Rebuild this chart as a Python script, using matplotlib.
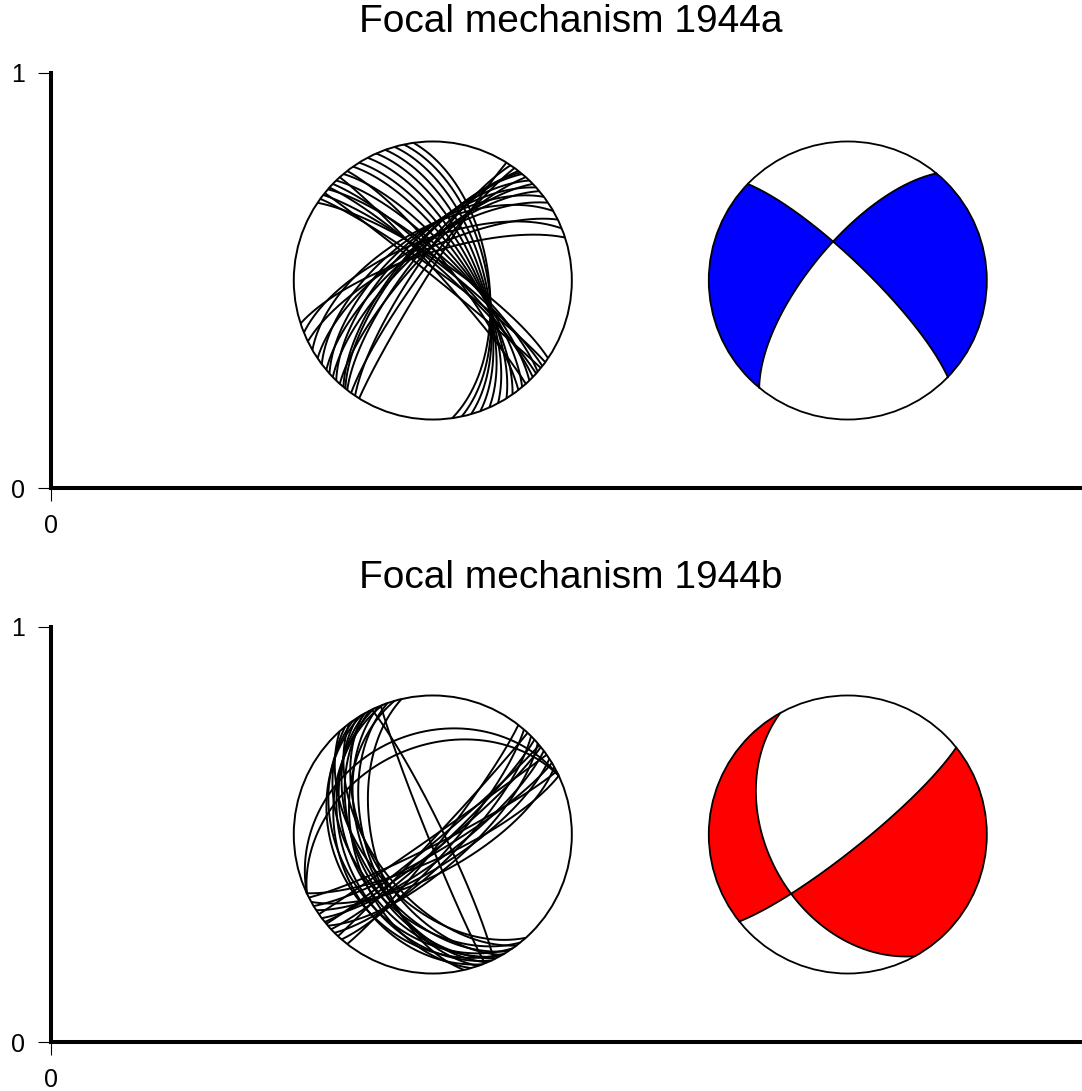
import numpy as np
import matplotlib
matplotlib.use("Agg")
import matplotlib.pyplot as plt
from matplotlib.patches import Circle

plt.rcParams["font.family"] = ["Liberation Sans", "DejaVu Sans"]

# ---------------------------------------------------------------- data
events = ["1944a", "1944b"]
titles = ["Focal mechanism 1944a", "Focal mechanism 1944b"]

# preferred double-couple solution of each event (degrees)
best_strike = [314, 151]
best_dip = [79, 42]
best_rake = [-158, -167]
fill_colors = ["#0000ff", "#ff0000"]

# acceptable nodal planes, event 1944a
a_planes1_strike = [304, 306, 308, 309, 311, 312, 314, 316, 318, 320, 322,
                    325, 328, 332, 336, 340, 344, 348, 352]
a_planes1_dip = [78, 84, 80, 88, 76, 82, 79, 74, 85, 72, 78,
                 70, 68, 66, 64, 62, 60, 58, 57]
a_planes2_strike = [212, 214, 216, 218, 219, 220, 222, 224, 226, 228, 230,
                    233, 236, 240, 244, 248, 252]
a_planes2_dip = [86, 78, 82, 74, 70, 69, 76, 66, 72, 64, 70,
                 62, 68, 60, 72, 66, 74]

# acceptable nodal planes, event 1944b
b_planes1_strike = [138, 141, 143, 145, 147, 149, 150, 151, 153, 155, 157,
                    159, 161, 164, 167, 158, 334]
b_planes1_dip = [50, 42, 54, 34, 46, 30, 52, 40, 44, 36, 48,
                 32, 50, 42, 54, 87, 84]
b_planes2_strike = [38, 41, 43, 45, 47, 49, 50, 51, 53, 55, 57, 59, 61, 63, 65,
                    245, 245]
b_planes2_dip = [84, 78, 88, 74, 82, 70, 86, 82, 76, 89, 72, 80, 68, 84, 76,
                 28, 37]

plane_strikes = [a_planes1_strike + a_planes2_strike,
                 b_planes1_strike + b_planes2_strike]
plane_dips = [a_planes1_dip + a_planes2_dip,
              b_planes1_dip + b_planes2_dip]

# ball placement in axis units
ball_x = [0.92, 1.92]
ball_y = 0.5
ball_radius = 0.335


# ---------------------------------------------------------------- geometry
def plane_xy(strike, dip, n=300):
    """Lower-hemisphere equal-area trace of a plane, unit radius."""
    phi = np.radians(strike)
    delta = np.radians(dip)
    t = np.linspace(0.0, np.pi, n)
    s = np.array([np.cos(phi), np.sin(phi), 0.0])
    alpha = phi + np.pi / 2
    d = np.array([np.cos(delta) * np.cos(alpha),
                  np.cos(delta) * np.sin(alpha),
                  np.sin(delta)])
    v = np.outer(np.cos(t), s) + np.outer(np.sin(t), d)
    vn, ve, vd = v.T
    theta = np.arccos(np.clip(vd, 0.0, 1.0))
    trend = np.arctan2(ve, vn)
    r = np.sqrt(2.0) * np.sin(theta / 2)
    return r * np.sin(trend), r * np.cos(trend)


def auxiliary_plane(strike, dip, rake):
    phi, delta, lam = np.radians([strike, dip, rake])
    u = np.array([
        np.cos(lam) * np.cos(phi) + np.cos(delta) * np.sin(lam) * np.sin(phi),
        np.cos(lam) * np.sin(phi) - np.cos(delta) * np.sin(lam) * np.cos(phi),
        -np.sin(delta) * np.sin(lam)])
    if u[2] > 0:
        u = -u
    dip2 = np.degrees(np.arccos(-u[2]))
    strike2 = np.degrees(np.arctan2(-u[0], u[1])) % 360
    return strike2, dip2


def p_amplitude(strike, dip, rake, x, y):
    phi, delta, lam = np.radians([strike, dip, rake])
    sd, cd = np.sin(delta), np.cos(delta)
    s2d, c2d = np.sin(2 * delta), np.cos(2 * delta)
    sl, cl = np.sin(lam), np.cos(lam)
    sp, cp = np.sin(phi), np.cos(phi)
    s2p, c2p = np.sin(2 * phi), np.cos(2 * phi)
    mxx = -(sd * cl * s2p + s2d * sl * sp ** 2)
    myy = sd * cl * s2p - s2d * sl * cp ** 2
    mzz = s2d * sl
    mxy = sd * cl * c2p + 0.5 * s2d * sl * s2p
    mxz = -(cd * cl * cp + c2d * sl * sp)
    myz = -(cd * cl * sp - c2d * sl * cp)
    r = np.hypot(x, y)
    theta = 2 * np.arcsin(np.clip(r / np.sqrt(2.0), 0.0, 1.0))
    trend = np.arctan2(x, y)
    vn = np.sin(theta) * np.cos(trend)
    ve = np.sin(theta) * np.sin(trend)
    vd = np.cos(theta)
    return (vn ** 2 * mxx + ve ** 2 * myy + vd ** 2 * mzz
            + 2 * (vn * ve * mxy + vn * vd * mxz + ve * vd * myz))


# ---------------------------------------------------------------- figure
W, H = 1082, 1091
fig = plt.figure(figsize=(W / 100, H / 100), dpi=100)
fig.patch.set_facecolor("white")

px_per_unit = 415.0
right_px = 1100.0
panel_tops = [73, 627]
title_y = [22, 578]

grid = np.linspace(-1.02, 1.02, 900)
gx, gy = np.meshgrid(grid, grid)

for k in range(2):
    top = panel_tops[k]
    bottom = top + px_per_unit
    ax = fig.add_axes([51 / W, (H - bottom) / H,
                       (right_px - 51) / W, px_per_unit / H])
    ax.set_xlim(0, (right_px - 51) / px_per_unit)
    ax.set_ylim(0, 1)
    ax.patch.set_alpha(0)
    for side in ("top", "right"):
        ax.spines[side].set_visible(False)
    for side in ("left", "bottom"):
        ax.spines[side].set_linewidth(2.9)
    ax.set_xticks([0])
    ax.set_xticklabels(["0"])
    ax.set_yticks([0, 1])
    ax.set_yticklabels(["0", "1"])
    ax.tick_params(direction="out", length=9.4, width=0.8, labelsize=18)
    ax.tick_params(axis="y", pad=9)
    ax.tick_params(axis="x", pad=9)

    fig.text(571 / W, 1 - title_y[k] / H, titles[k], ha="center",
             va="center", fontsize=28)

    R = ball_radius

    # solution set: nodal planes only
    cx = ball_x[0]
    ax.add_patch(Circle((cx, ball_y), R, facecolor="white",
                        edgecolor="none", zorder=2))
    for st, dp in zip(plane_strikes[k], plane_dips[k]):
        px, py = plane_xy(st, dp)
        ax.plot(cx + R * px, ball_y + R * py, color="black", lw=1.4,
                zorder=3, solid_capstyle="butt")
    ax.add_patch(Circle((cx, ball_y), R, facecolor="none",
                        edgecolor="black", lw=1.4, zorder=4))

    # preferred mechanism: shaded compressional quadrants
    cx = ball_x[1]
    ax.add_patch(Circle((cx, ball_y), R, facecolor="white",
                        edgecolor="none", zorder=2))
    amp = p_amplitude(best_strike[k], best_dip[k], best_rake[k], gx, gy)
    cs = ax.contourf(cx + R * gx, ball_y + R * gy, amp,
                     levels=[0, amp.max() + 1], colors=[fill_colors[k]],
                     zorder=2.5, antialiased=True)
    clip = Circle((cx, ball_y), R, transform=ax.transData)
    cs.set_clip_path(clip)
    s2, d2 = auxiliary_plane(best_strike[k], best_dip[k], best_rake[k])
    for st, dp in ((best_strike[k], best_dip[k]), (s2, d2)):
        px, py = plane_xy(st, dp)
        ax.plot(cx + R * px, ball_y + R * py, color="black", lw=1.3,
                zorder=3)
    ax.add_patch(Circle((cx, ball_y), R, facecolor="none",
                        edgecolor="black", lw=1.3, zorder=4))

fig.savefig("out.png", dpi=100)
